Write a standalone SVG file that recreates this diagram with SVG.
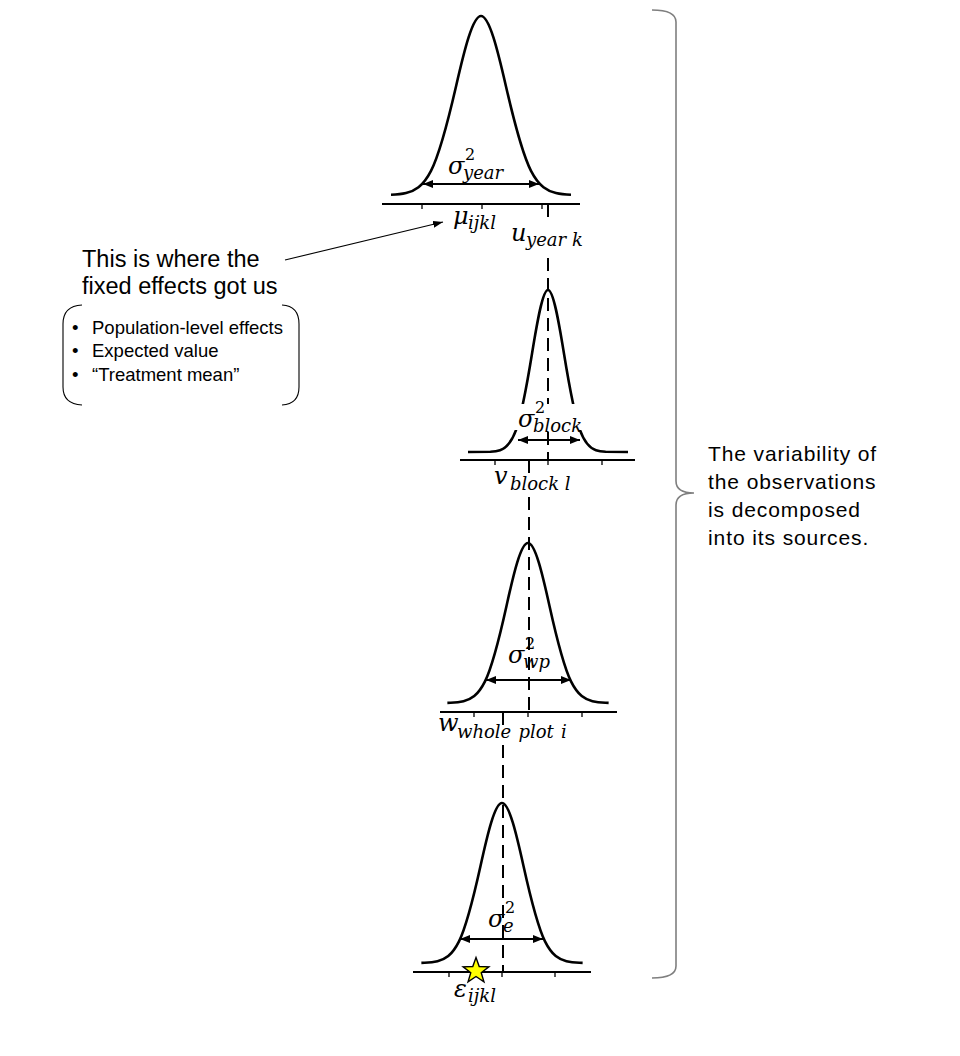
<svg xmlns="http://www.w3.org/2000/svg" width="960" height="1056" viewBox="0 0 960 1056">
<style>
.curve{fill:none;stroke:#000;stroke-width:2.6;vector-effect:non-scaling-stroke;stroke-linejoin:round}
.axis{fill:none;stroke:#000;stroke-width:2}
.tick{fill:none;stroke:#000;stroke-width:1.3}
.dash{fill:none;stroke:#000;stroke-width:2;stroke-dasharray:13 7}
.harrow{fill:none;stroke:#000;stroke-width:2;marker-start:url(#ah);marker-end:url(#ah)}
.m{font-family:"DejaVu Serif","Liberation Serif",serif;font-style:italic;fill:#000;font-size:24px}
.s{font-size:18px}
.sup{font-style:normal;font-size:16px}
.sans{font-family:"Liberation Sans",Arial,sans-serif;fill:#000}
</style>
<defs>
<marker id="ah" viewBox="0 0 10 8" markerUnits="userSpaceOnUse" markerWidth="10" markerHeight="8" refX="10" refY="4" orient="auto-start-reverse"><path d="M0 0 L10 4 L0 8 Z" fill="#000"/></marker>
<marker id="ah2" viewBox="0 0 10 7" markerUnits="userSpaceOnUse" markerWidth="10" markerHeight="7" refX="10" refY="3.5" orient="auto"><path d="M0 0 L10 3.5 L0 7 Z" fill="#000"/></marker>
<clipPath id="gap2" clipPathUnits="userSpaceOnUse"><path clip-rule="evenodd" d="M380 270 H660 V480 H380 Z M505 404 H595 V430 H505 Z"/></clipPath>
</defs>

<g id="connectors">
<path class="dash" d="M548 204 V218 M548 258 V404 M548 432 V460"/>
<path class="dash" d="M529 460 V477 M529 497 V712"/>
<path class="dash" d="M503 712 V725 M503 745 V972"/>
<line x1="285" y1="260" x2="443" y2="222" stroke="#000" stroke-width="1.1" marker-end="url(#ah2)"/>
</g>

<g id="dist-year">
<path class="curve" transform="translate(481 195) scale(25 -179)" d="M-3.6 0.0015 C-3.4 0.0026 -3.2 0.0044 -3 0.0111 C-2.667 0.0222 -2.333 0.0451 -2 0.1353 C-1.667 0.2255 -1.333 0.4043 -1 0.6065 C-0.667 0.8087 -0.333 1 0 1 C0.333 1 0.667 0.8087 1 0.6065 C1.333 0.4043 1.667 0.2255 2 0.1353 C2.333 0.0451 2.667 0.0222 3 0.0111 C3.2 0.0044 3.4 0.0026 3.6 0.0015"/>
<line class="axis" x1="382" y1="204" x2="580" y2="204"/>
<path class="tick" d="M422 204 V209 M482 204 V209 M542 204 V209"/>
<line class="harrow" x1="423" y1="184" x2="539" y2="184"/>
<text class="m"><tspan x="448" y="174">σ</tspan><tspan class="sup" x="465" y="160">2</tspan><tspan class="s" x="463" y="179">year</tspan></text>
<text class="m"><tspan x="453" y="224">μ</tspan><tspan class="s" x="468" y="229">ijkl</tspan></text>
<text class="m"><tspan x="511" y="241">u</tspan><tspan class="s" x="526" y="246">year k</tspan></text>
</g>

<g id="dist-block">
<g clip-path="url(#gap2)">
<path class="curve" transform="translate(548 452) scale(16 -162)" d="M-5 0 L-3.6 0.0015 C-3.4 0.0026 -3.2 0.0044 -3 0.0111 C-2.667 0.0222 -2.333 0.0451 -2 0.1353 C-1.667 0.2255 -1.333 0.4043 -1 0.6065 C-0.667 0.8087 -0.333 1 0 1 C0.333 1 0.667 0.8087 1 0.6065 C1.333 0.4043 1.667 0.2255 2 0.1353 C2.333 0.0451 2.667 0.0222 3 0.0111 C3.2 0.0044 3.4 0.0026 3.6 0.0015 L5 0"/>
</g>
<line class="axis" x1="460" y1="460" x2="635" y2="460"/>
<path class="tick" d="M495 460 V465 M548 460 V465 M602 460 V465"/>
<line class="harrow" x1="518" y1="440" x2="580" y2="440"/>
<text class="m"><tspan x="518" y="427">σ</tspan><tspan class="sup" x="535" y="413">2</tspan><tspan class="s" x="533" y="432">block</tspan></text>
<text class="m"><tspan x="494" y="484">v</tspan><tspan class="s" x="510" y="490">block l</tspan></text>
</g>

<g id="dist-wp">
<path class="curve" transform="translate(528 703) scale(21.5 -160)" d="M-3.75 0.001 L-3.6 0.0015 C-3.4 0.0026 -3.2 0.0044 -3 0.0111 C-2.667 0.0222 -2.333 0.0451 -2 0.1353 C-1.667 0.2255 -1.333 0.4043 -1 0.6065 C-0.667 0.8087 -0.333 1 0 1 C0.333 1 0.667 0.8087 1 0.6065 C1.333 0.4043 1.667 0.2255 2 0.1353 C2.333 0.0451 2.667 0.0222 3 0.0111 C3.2 0.0044 3.4 0.0026 3.6 0.0015 L3.75 0.001"/>
<line class="axis" x1="440" y1="712" x2="617" y2="712"/>
<path class="tick" d="M474 712 V717 M528 712 V717 M582 712 V717"/>
<line class="harrow" x1="486" y1="680" x2="571" y2="680"/>
<text class="m"><tspan x="508" y="663">σ</tspan><tspan class="sup" x="525" y="649">2</tspan><tspan class="s" x="523" y="668">wp</tspan></text>
<text class="m"><tspan x="438" y="731">w</tspan><tspan class="s" x="457" y="738" word-spacing="1.5">whole plot i</tspan></text>
</g>

<g id="dist-e">
<path class="curve" transform="translate(502 963) scale(21.5 -160)" d="M-3.75 0.001 L-3.6 0.0015 C-3.4 0.0026 -3.2 0.0044 -3 0.0111 C-2.667 0.0222 -2.333 0.0451 -2 0.1353 C-1.667 0.2255 -1.333 0.4043 -1 0.6065 C-0.667 0.8087 -0.333 1 0 1 C0.333 1 0.667 0.8087 1 0.6065 C1.333 0.4043 1.667 0.2255 2 0.1353 C2.333 0.0451 2.667 0.0222 3 0.0111 C3.2 0.0044 3.4 0.0026 3.6 0.0015 L3.75 0.001"/>
<line class="axis" x1="413" y1="972" x2="591" y2="972"/>
<path class="tick" d="M449 972 V977 M502 972 V977 M555 972 V977"/>
<line class="harrow" x1="460" y1="939" x2="543" y2="939"/>
<text class="m"><tspan x="488" y="927">σ</tspan><tspan class="sup" x="505" y="913">2</tspan><tspan class="s" x="503" y="932">e</tspan></text>
<polygon points="476,957.5 479.23,966.55 488.84,966.83 481.23,972.7 483.94,981.92 476,976.5 468.06,981.92 470.77,972.7 463.16,966.83 472.77,966.55" fill="#FFFF00" stroke="#000" stroke-width="1.4"/>
<text class="m"><tspan x="454" y="997">ε</tspan><tspan class="s" x="468" y="1002">ijkl</tspan></text>
</g>

<g id="callout">
<text class="sans" font-size="23.5" x="82" y="267">This is where the</text>
<text class="sans" font-size="23.5" x="82" y="294">fixed effects got us</text>
</g>

<g id="bullets">
<path d="M82 305 Q63 306 63 324 V387 Q63 404 82 405" fill="none" stroke="#000" stroke-width="1.1"/>
<path d="M282 305 Q299 306 299 324 V387 Q299 404 282 405" fill="none" stroke="#000" stroke-width="1.1"/>
<text class="sans" font-size="18.5" x="72" y="334">•</text>
<text class="sans" font-size="18.5" x="92" y="334">Population-level effects</text>
<text class="sans" font-size="18.5" x="72" y="357">•</text>
<text class="sans" font-size="18.5" x="92" y="357">Expected value</text>
<text class="sans" font-size="18.5" x="72" y="381">•</text>
<text class="sans" font-size="18.5" x="92" y="381">“Treatment mean”</text>
</g>

<g id="variability">
<path d="M652 10 Q676 10 676 22 V481 Q676 493 694 493 Q676 493 676 505 V966 Q676 978 652 978" fill="none" stroke="#7f7f7f" stroke-width="1.6"/>
<text class="sans" font-size="21" letter-spacing="0.9" x="708" y="461">The variability of</text>
<text class="sans" font-size="21" letter-spacing="0.9" x="708" y="489">the observations</text>
<text class="sans" font-size="21" letter-spacing="0.9" x="708" y="517">is decomposed</text>
<text class="sans" font-size="21" letter-spacing="0.9" x="708" y="545">into its sources.</text>
</g>
</svg>
